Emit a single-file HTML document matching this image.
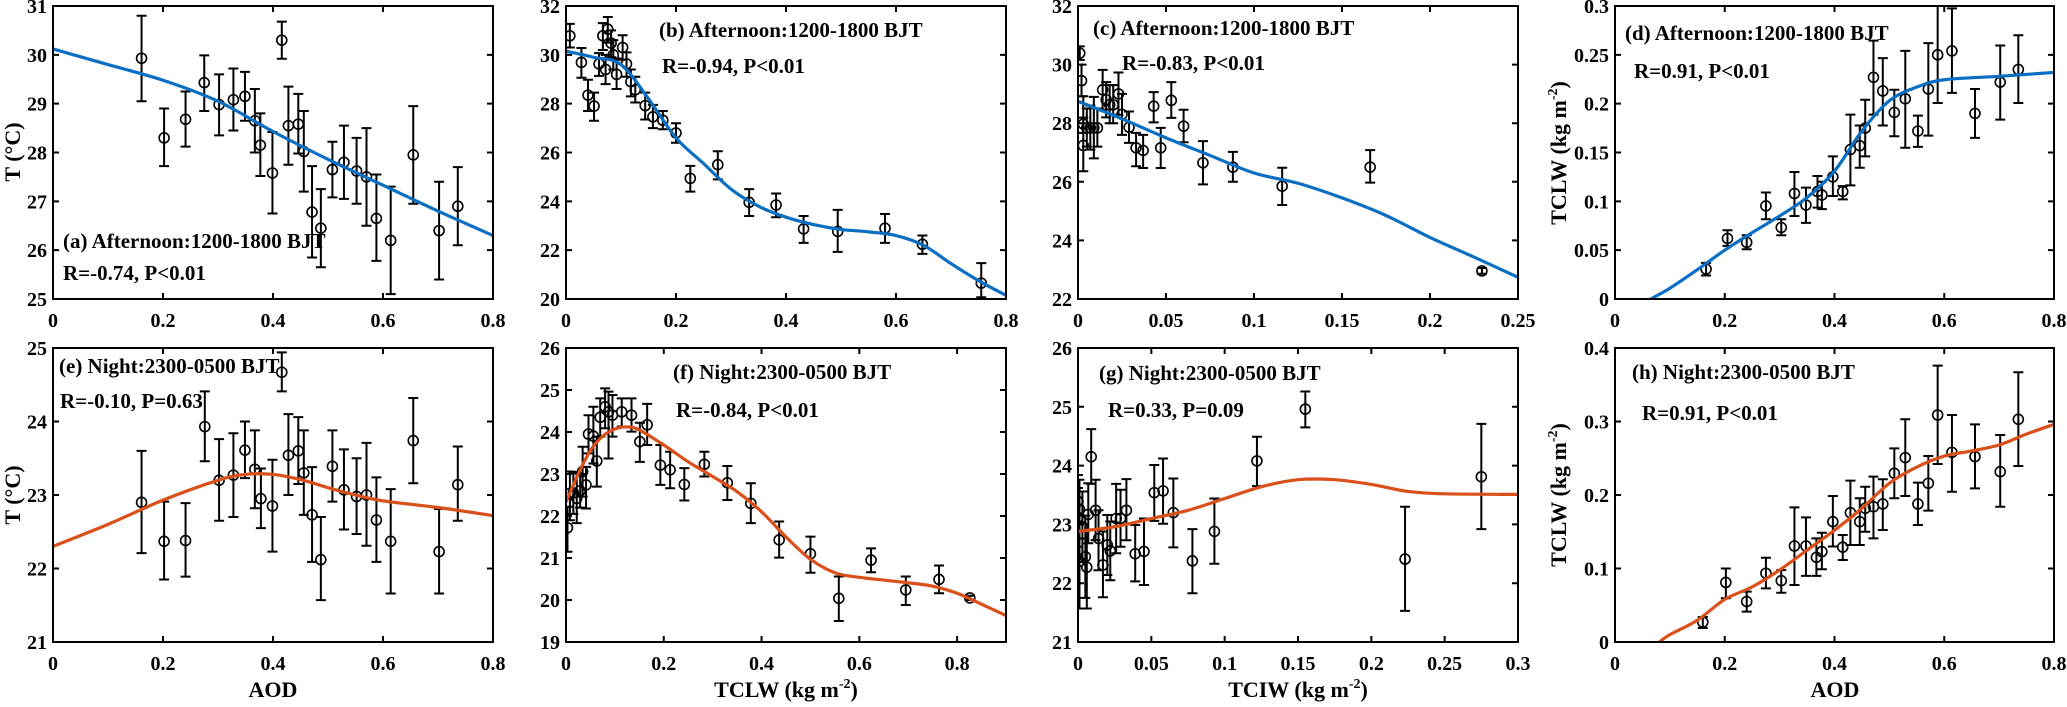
<!DOCTYPE html>
<html><head><meta charset="utf-8"><style>
html,body{margin:0;padding:0;background:#fff;}
svg{display:block;}
svg text{font-family:"Liberation Serif","DejaVu Serif",serif;font-weight:bold;}
</style></head><body>
<svg id="fig" width="2067" height="707" viewBox="0 0 2067 707" xmlns="http://www.w3.org/2000/svg"></svg>
<script>
// ---- Panel (a) Afternoon T vs AOD ----
const aX=[0.161,0.202,0.241,0.275,0.302,0.328,0.349,0.367,0.377,0.399,0.416,0.428,0.446,0.456,0.471,0.487,0.508,0.529,0.552,0.570,0.588,0.614,0.655,0.702,0.736];
const aY=[29.93,28.3,28.68,29.43,28.98,29.08,29.15,28.65,28.15,27.58,30.3,28.55,28.58,28.02,26.78,26.45,27.65,27.8,27.62,27.5,26.65,26.2,27.95,26.4,26.9];
const aLo=[29.05,27.72,28.12,28.85,28.35,28.45,28.65,28.0,27.52,26.75,29.92,27.75,27.98,27.2,25.85,25.65,27.08,27.05,26.95,26.5,25.78,25.1,26.95,25.4,26.1];
const aHi=[30.8,28.9,29.25,29.99,29.6,29.72,29.65,29.3,28.8,28.42,30.68,29.35,29.2,28.85,27.72,27.25,28.22,28.55,28.3,28.5,27.55,27.3,28.95,27.4,27.7];
const aFitX=[0,0.1,0.2,0.3,0.4,0.5,0.6,0.7,0.8];
const aFitY=[30.12,29.8,29.48,29.05,28.43,27.86,27.33,26.8,26.3];
// ---- Panel (b) Afternoon T vs TCLW ----
const bX=[0.007,0.028,0.04,0.051,0.06,0.067,0.072,0.076,0.082,0.086,0.092,0.103,0.11,0.118,0.126,0.144,0.158,0.176,0.2,0.226,0.276,0.333,0.382,0.432,0.494,0.58,0.648,0.755];
const bY=[30.78,29.69,28.35,27.9,29.63,30.78,29.4,31.05,30.48,30.0,29.2,30.3,29.63,28.9,28.57,27.92,27.46,27.32,26.8,24.94,25.5,23.96,23.85,22.87,22.77,22.9,22.24,20.65];
const bLo=[30.3,29.06,27.7,27.3,29.14,30.2,28.8,30.5,29.9,29.4,28.6,29.8,29.1,28.3,28.05,27.35,27.0,26.95,26.4,24.4,24.9,23.4,23.35,22.3,21.93,22.3,21.85,20.07];
const bHi=[31.27,30.28,28.98,28.45,30.07,31.3,30.0,31.55,31.0,30.6,29.85,30.8,30.1,29.4,29.1,28.45,27.95,27.7,27.2,25.45,26.05,24.5,24.32,23.4,23.65,23.48,22.6,21.47];
const bFitX=[0,0.05,0.1,0.15,0.2,0.25,0.3,0.35,0.4,0.45,0.5,0.55,0.6,0.65,0.7,0.75,0.8];
const bFitY=[30.15,29.9,29.6,28.2,26.6,25.55,24.5,23.8,23.35,23.05,22.85,22.75,22.6,22.2,21.45,20.75,20.15];
// ---- Panel (c) Afternoon T vs TCIW ----
const cX=[0.001,0.002,0.003,0.003,0.005,0.007,0.009,0.011,0.014,0.016,0.018,0.02,0.023,0.025,0.029,0.033,0.037,0.043,0.047,0.053,0.06,0.071,0.088,0.116,0.166,0.2295];
const cY=[30.39,29.45,27.97,27.24,27.84,27.84,27.84,27.84,29.14,28.8,28.63,28.63,29.0,28.3,27.86,27.16,27.07,28.58,27.16,28.78,27.9,26.65,26.5,25.85,26.5,22.96];
const cLo=[30.16,28.92,27.67,26.36,27.2,27.1,26.8,27.2,28.46,28.2,28.0,28.0,28.29,27.6,27.33,26.53,26.47,28.03,26.47,28.18,27.35,25.91,26.0,25.21,25.97,22.86];
const cHi=[30.62,30.0,28.92,28.19,28.5,28.6,28.9,28.5,29.82,29.4,29.3,29.3,29.73,29.0,28.4,27.67,27.6,29.06,27.84,29.4,28.46,27.39,27.02,26.48,27.08,23.06];
const cFitX=[0,0.025,0.05,0.075,0.1,0.125,0.15,0.175,0.2,0.225,0.25];
const cFitY=[28.75,28.15,27.5,26.9,26.3,25.95,25.45,24.85,24.1,23.43,22.74];
// ---- Panel (d) Afternoon TCLW vs AOD ----
const dX=[0.166,0.205,0.24,0.275,0.303,0.327,0.348,0.369,0.377,0.397,0.415,0.429,0.446,0.456,0.471,0.488,0.509,0.529,0.552,0.571,0.588,0.614,0.656,0.702,0.735];
const dY=[0.0306,0.062,0.058,0.0953,0.0732,0.108,0.0962,0.11,0.1065,0.125,0.11,0.153,0.157,0.175,0.227,0.213,0.191,0.205,0.172,0.215,0.25,0.254,0.19,0.222,0.235];
const dLo=[0.024,0.0544,0.051,0.0816,0.0653,0.085,0.078,0.0936,0.092,0.1054,0.102,0.1163,0.1344,0.146,0.1888,0.1776,0.1666,0.1548,0.1558,0.1673,0.2007,0.211,0.165,0.1837,0.2007];
const dHi=[0.037,0.0704,0.0653,0.109,0.0816,0.13,0.114,0.126,0.12,0.146,0.1156,0.1888,0.1776,0.204,0.2646,0.2466,0.2143,0.254,0.1878,0.262,0.31,0.2976,0.215,0.2595,0.27];
const dFitX=[0.065,0.1,0.15,0.2,0.25,0.3,0.35,0.4,0.45,0.5,0.55,0.6,0.7,0.8];
const dFitY=[0,0.011,0.03,0.05,0.068,0.085,0.104,0.131,0.172,0.203,0.217,0.2245,0.228,0.232];
// ---- Panel (e) Night T vs AOD ----
const eX=[0.161,0.202,0.241,0.276,0.302,0.328,0.349,0.367,0.378,0.399,0.416,0.428,0.446,0.456,0.471,0.487,0.508,0.529,0.552,0.570,0.588,0.614,0.655,0.702,0.736];
const eY=[22.9,22.37,22.38,23.93,23.2,23.27,23.61,23.35,22.95,22.85,24.67,23.54,23.6,23.3,22.73,22.12,23.39,23.07,22.98,23.0,22.66,22.37,23.74,22.23,23.14];
const eLo=[22.21,21.85,21.89,23.46,22.65,22.7,23.23,22.82,22.55,22.23,24.41,23.0,23.15,22.73,22.09,21.57,22.91,22.53,22.47,22.31,22.09,21.66,23.16,21.66,22.65];
const eHi=[23.6,22.91,22.89,24.41,23.76,23.84,24.0,23.88,23.36,23.48,24.94,24.1,24.06,23.88,23.38,22.7,23.88,23.62,23.5,23.71,23.24,23.08,24.32,22.81,23.66];
const eFitX=[0,0.1,0.2,0.3,0.35,0.4,0.45,0.5,0.55,0.6,0.7,0.8];
const eFitY=[22.3,22.6,22.93,23.2,23.28,23.28,23.21,23.1,23.0,22.92,22.83,22.72];
// ---- Panel (f) Night T vs TCLW ----
const fX=[0.003,0.008,0.015,0.022,0.029,0.034,0.041,0.046,0.056,0.063,0.07,0.08,0.087,0.095,0.114,0.134,0.151,0.166,0.193,0.213,0.242,0.283,0.33,0.378,0.436,0.5,0.558,0.624,0.695,0.763,0.826];
const fY=[21.72,22.54,22.55,22.42,22.6,23.06,22.74,23.95,23.9,23.31,24.35,24.6,24.48,24.4,24.48,24.4,23.77,24.17,23.21,23.1,22.75,23.23,22.79,22.3,21.43,21.1,20.04,20.95,20.24,20.49,20.05];
const fLo=[21.15,21.9,22.05,21.83,22.2,22.46,22.18,23.49,23.25,22.7,23.89,24.09,23.37,23.89,24.13,24.01,23.29,23.69,22.74,22.66,22.37,22.94,22.38,21.83,21.01,20.65,19.5,20.66,19.88,20.16,20.0];
const fHi=[22.22,23.06,23.05,23.02,23.0,23.65,23.17,24.4,24.6,23.89,24.8,25.04,24.96,24.88,24.8,24.8,24.22,24.67,23.69,23.53,23.14,23.53,23.19,22.78,21.87,21.51,20.56,21.23,20.56,20.82,20.1];
const fFitX=[0,0.025,0.05,0.075,0.1,0.125,0.15,0.2,0.25,0.3,0.35,0.4,0.45,0.5,0.55,0.6,0.7,0.75,0.8,0.85,0.9];
const fFitY=[22.33,23.0,23.56,23.9,24.07,24.12,24.05,23.69,23.29,22.94,22.58,22.1,21.5,20.97,20.65,20.54,20.41,20.33,20.16,19.9,19.63];
// ---- Panel (g) Night T vs TCIW ----
const gX=[0.0,0.0,0.001,0.001,0.003,0.005,0.006,0.007,0.009,0.012,0.014,0.017,0.02,0.022,0.026,0.029,0.033,0.039,0.045,0.052,0.058,0.065,0.078,0.093,0.122,0.155,0.223,0.275];
const gY=[23.39,23.12,23.26,22.37,22.96,22.45,22.27,23.17,24.15,23.24,22.76,22.31,22.65,22.55,23.1,23.1,23.24,22.5,22.54,23.54,23.57,23.2,22.38,22.88,24.08,24.96,22.41,23.81];
const gLo=[22.9,22.62,22.76,21.57,22.36,21.75,21.57,22.68,23.69,22.73,22.22,21.76,22.14,22.05,22.51,22.62,22.73,22.03,21.97,23.06,23.01,22.61,21.83,22.33,23.65,24.65,21.53,22.92];
const gHi=[23.84,23.62,23.76,23.02,23.56,23.15,22.9,23.7,24.62,23.76,23.24,22.88,23.16,23.05,23.69,23.59,23.77,22.99,23.1,24.01,24.12,23.78,22.92,23.44,24.49,25.26,23.3,24.71];
const gFitX=[0,0.025,0.05,0.075,0.1,0.125,0.15,0.175,0.2,0.225,0.25,0.3];
const gFitY=[22.88,22.96,23.1,23.24,23.44,23.64,23.76,23.76,23.68,23.56,23.52,23.51];
// ---- Panel (h) Night TCLW vs AOD ----
const hX=[0.16,0.202,0.24,0.275,0.303,0.327,0.348,0.367,0.377,0.397,0.415,0.429,0.446,0.456,0.471,0.488,0.509,0.529,0.552,0.571,0.588,0.614,0.656,0.702,0.735];
const hY=[0.027,0.081,0.055,0.0935,0.0834,0.1306,0.1306,0.1152,0.123,0.1637,0.129,0.176,0.1637,0.182,0.184,0.1878,0.2295,0.2508,0.1878,0.216,0.3088,0.258,0.2522,0.2317,0.303];
const hLo=[0.019,0.0595,0.0413,0.073,0.067,0.0776,0.09,0.09,0.099,0.13,0.1116,0.132,0.132,0.15,0.141,0.1524,0.1955,0.1986,0.1592,0.1787,0.2422,0.2045,0.209,0.184,0.2395];
const hHi=[0.034,0.1,0.0685,0.1147,0.098,0.1832,0.1696,0.141,0.1487,0.1986,0.1456,0.2195,0.1955,0.2113,0.225,0.2214,0.2635,0.303,0.2168,0.253,0.376,0.3088,0.2961,0.2816,0.367];
const hFitX=[0.081,0.1,0.15,0.2,0.25,0.3,0.35,0.4,0.45,0.5,0.55,0.6,0.65,0.7,0.75,0.8];
const hFitY=[0,0.01,0.0296,0.058,0.075,0.098,0.125,0.152,0.182,0.216,0.238,0.253,0.26,0.268,0.283,0.296];
// ---- Tick labels ----
const aodTicks=[0,0.2,0.4,0.6,0.8];
const aodTickLabels=["0","0.2","0.4","0.6","0.8"];
const tclwTicksF=[0,0.2,0.4,0.6,0.8];
const tclwTickLabelsF=["0","0.2","0.4","0.6","0.8"];
const tciwTicksC=[0,0.05,0.1,0.15,0.2,0.25];
const tciwTickLabelsC=["0","0.05","0.1","0.15","0.2","0.25"];
const tciwTicksG=[0,0.05,0.1,0.15,0.2,0.25,0.3];
const tciwTickLabelsG=["0","0.05","0.1","0.15","0.2","0.25","0.3"];
const aYTicks=[25,26,27,28,29,30,31];
const bcYTicks=[20,22,24,26,28,30,32];
const cYTicks=[22,24,26,28,30,32];
const dYTicks=[0,0.05,0.1,0.15,0.2,0.25,0.3];
const dYTickLabels=["0","0.05","0.1","0.15","0.2","0.25","0.3"];
const eYTicks=[21,22,23,24,25];
const fgYTicks=[19,20,21,22,23,24,25,26];
const gYTicks=[21,22,23,24,25,26];
const hYTicks=[0,0.1,0.2,0.3,0.4];
const hYTickLabels=["0","0.1","0.2","0.3","0.4"];

const NS='http://www.w3.org/2000/svg';
const FONT='"Liberation Serif","DejaVu Serif",serif';
const svg=document.getElementById('fig');
function mk(tag,attrs,parent){const e=document.createElementNS(NS,tag);for(const k in attrs)e.setAttribute(k,attrs[k]);if(tag==='text'){e.setAttribute('font-family',FONT);e.setAttribute('font-weight','bold');}parent.appendChild(e);return e;}
function spline(pts){
  let d='M'+pts[0][0].toFixed(2)+','+pts[0][1].toFixed(2);
  for(let i=0;i<pts.length-1;i++){
    const p0=pts[Math.max(0,i-1)],p1=pts[i],p2=pts[i+1],p3=pts[Math.min(pts.length-1,i+2)];
    const c1x=p1[0]+(p2[0]-p0[0])/6,c1y=p1[1]+(p2[1]-p0[1])/6;
    const c2x=p2[0]-(p3[0]-p1[0])/6,c2y=p2[1]-(p3[1]-p1[1])/6;
    d+=' C'+c1x.toFixed(2)+','+c1y.toFixed(2)+' '+c2x.toFixed(2)+','+c2y.toFixed(2)+' '+p2[0].toFixed(2)+','+p2[1].toFixed(2);
  }
  return d;
}
let clipN=0;
function panel(p){
  const g=mk('g',{},svg);
  
  
  const sx=v=>p.L+(v-p.xmin)/(p.xmax-p.xmin)*(p.R-p.L);
  const sy=v=>p.B-(v-p.ymin)/(p.ymax-p.ymin)*(p.B-p.T);
  const cid='clip'+(clipN++);
  const defs=mk('defs',{},g);
  const cp=mk('clipPath',{id:cid},defs);
  mk('rect',{x:p.L,y:p.T,width:p.R-p.L,height:p.B-p.T},cp);
  const plot=mk('g',{'clip-path':'url(#'+cid+')'},g);
  
  
  for(let i=0;i<p.X.length;i++){
    const x=sx(p.X[i]),y=sy(p.Y[i]),lo=sy(p.Lo[i]),hi=sy(p.Hi[i]);
    const eb=mk('path',{d:`M${x},${lo}V${hi}M${x-5},${lo}H${x+5}M${x-5},${hi}H${x+5}`,stroke:'#000','stroke-width':2,fill:'none'},plot);
    
    
    const c=mk('circle',{cx:x,cy:y,r:5,fill:'none',stroke:'#000','stroke-width':1.6},plot);
    
    
  }
  const pts=p.FX.map((v,i)=>[sx(v),sy(p.FY[i])]);
  const fit=mk('path',{d:spline(pts),stroke:p.color,'stroke-width':3.2,fill:'none'},plot);
  
  
  const fr=mk('rect',{x:p.L,y:p.T,width:p.R-p.L,height:p.B-p.T,fill:'none',stroke:'#000','stroke-width':2},g);
  
  
  p.xt.forEach((v,i)=>{
    const x=sx(v);
    const t=mk('path',{d:`M${x},${p.B}V${p.B-6}M${x},${p.T}V${p.T+6}`,stroke:'#000','stroke-width':2},g);
    
    
    const tl=mk('text',{x:x,y:p.B+28,'text-anchor':'middle','font-size':20},g);
    tl.textContent=p.xtl[i];
    
    
  });
  p.yt.forEach((v,i)=>{
    const y=sy(v);
    const t=mk('path',{d:`M${p.L},${y}H${p.L+6}M${p.R},${y}H${p.R-6}`,stroke:'#000','stroke-width':2},g);
    
    
    const tl=mk('text',{x:p.L-6,y:y+7,'text-anchor':'end','font-size':20},g);
    tl.textContent=p.ytl[i];
    
    
  });
  const lb=mk('text',{x:p.lx,y:p.ly,'font-size':21},g);
  lb.textContent=p.label;
  
  
  const rt=mk('text',{x:p.rx,y:p.ry,'font-size':21},g);
  rt.textContent=p.rtext;
  
  
}
const BLUE='#0a6fc2',ORANGE='#d9501a';
const rowTop={T:6,B:299},rowBot={T:348,B:642};
const colA={L:53,R:493},colB={L:566,R:1006},colC={L:1078,R:1518},colD={L:1615,R:2054};
const str=a=>a.map(String);
panel({id:'a',...colA,...rowTop,xmin:0,xmax:0.8,ymin:25,ymax:31,xt:aodTicks,xtl:aodTickLabels,yt:aYTicks,ytl:str(aYTicks),X:aX,Y:aY,Lo:aLo,Hi:aHi,FX:aFitX,FY:aFitY,color:BLUE,label:'(a) Afternoon:1200-1800 BJT',lx:63,ly:248,rtext:'R=-0.74, P<0.01',rx:63,ry:280});
panel({id:'b',...colB,...rowTop,xmin:0,xmax:0.8,ymin:20,ymax:32,xt:tclwTicksF,xtl:tclwTickLabelsF,yt:bcYTicks,ytl:str(bcYTicks),X:bX,Y:bY,Lo:bLo,Hi:bHi,FX:bFitX,FY:bFitY,color:BLUE,label:'(b) Afternoon:1200-1800 BJT',lx:659,ly:37,rtext:'R=-0.94, P<0.01',rx:662,ry:73});
panel({id:'c',...colC,...rowTop,xmin:0,xmax:0.25,ymin:22,ymax:32,xt:tciwTicksC,xtl:tciwTickLabelsC,yt:cYTicks,ytl:str(cYTicks),X:cX,Y:cY,Lo:cLo,Hi:cHi,FX:cFitX,FY:cFitY,color:BLUE,label:'(c) Afternoon:1200-1800 BJT',lx:1093,ly:35,rtext:'R=-0.83, P<0.01',rx:1122,ry:70});
panel({id:'d',...colD,...rowTop,xmin:0,xmax:0.8,ymin:0,ymax:0.3,xt:aodTicks,xtl:aodTickLabels,yt:dYTicks,ytl:dYTickLabels,X:dX,Y:dY,Lo:dLo,Hi:dHi,FX:dFitX,FY:dFitY,color:BLUE,label:'(d) Afternoon:1200-1800 BJT',lx:1625,ly:40,rtext:'R=0.91, P<0.01',rx:1634,ry:78});
panel({id:'e',...colA,...rowBot,xmin:0,xmax:0.8,ymin:21,ymax:25,xt:aodTicks,xtl:aodTickLabels,yt:eYTicks,ytl:str(eYTicks),X:eX,Y:eY,Lo:eLo,Hi:eHi,FX:eFitX,FY:eFitY,color:ORANGE,label:'(e) Night:2300-0500 BJT',lx:59,ly:373,rtext:'R=-0.10, P=0.63',rx:60,ry:408});
panel({id:'f',...colB,...rowBot,xmin:0,xmax:0.9,ymin:19,ymax:26,xt:tclwTicksF,xtl:tclwTickLabelsF,yt:fgYTicks,ytl:str(fgYTicks),X:fX,Y:fY,Lo:fLo,Hi:fHi,FX:fFitX,FY:fFitY,color:ORANGE,label:'(f) Night:2300-0500 BJT',lx:673,ly:379,rtext:'R=-0.84, P<0.01',rx:676,ry:417});
panel({id:'g',...colC,...rowBot,xmin:0,xmax:0.3,ymin:21,ymax:26,xt:tciwTicksG,xtl:tciwTickLabelsG,yt:gYTicks,ytl:str(gYTicks),X:gX,Y:gY,Lo:gLo,Hi:gHi,FX:gFitX,FY:gFitY,color:ORANGE,label:'(g) Night:2300-0500 BJT',lx:1099,ly:380,rtext:'R=0.33, P=0.09',rx:1108,ry:417});
panel({id:'h',...colD,...rowBot,xmin:0,xmax:0.8,ymin:0,ymax:0.4,xt:aodTicks,xtl:aodTickLabels,yt:hYTicks,ytl:hYTickLabels,X:hX,Y:hY,Lo:hLo,Hi:hHi,FX:hFitX,FY:hFitY,color:ORANGE,label:'(h) Night:2300-0500 BJT',lx:1632,ly:379,rtext:'R=0.91, P<0.01',rx:1642,ry:420});

function ytitle(x,y,html,name){
  const t=mk('text',{transform:`translate(${x},${y}) rotate(-90)`,'text-anchor':'middle','font-size':22},svg);
  t.innerHTML=html;
  
  
}
function xtitle(x,y,html,name){
  const t=mk('text',{x:x,y:y,'text-anchor':'middle','font-size':22},svg);
  t.innerHTML=html;
  
  
}
const unit='(kg m<tspan dy="-9" font-size="14">-2</tspan><tspan dy="9">)</tspan>';
ytitle(20,152,'T (°C)','y-axis-title-a');
ytitle(20,495,'T (°C)','y-axis-title-e');
ytitle(1566,153,'TCLW '+unit,'y-axis-title-d');
ytitle(1566,495,'TCLW '+unit,'y-axis-title-h');
xtitle(273,697,'AOD','x-axis-title-e');
xtitle(786,697,'TCLW '+unit,'x-axis-title-f');
xtitle(1298,697,'TCIW '+unit,'x-axis-title-g');
xtitle(1835,697,'AOD','x-axis-title-h');
</script>
</body></html>
